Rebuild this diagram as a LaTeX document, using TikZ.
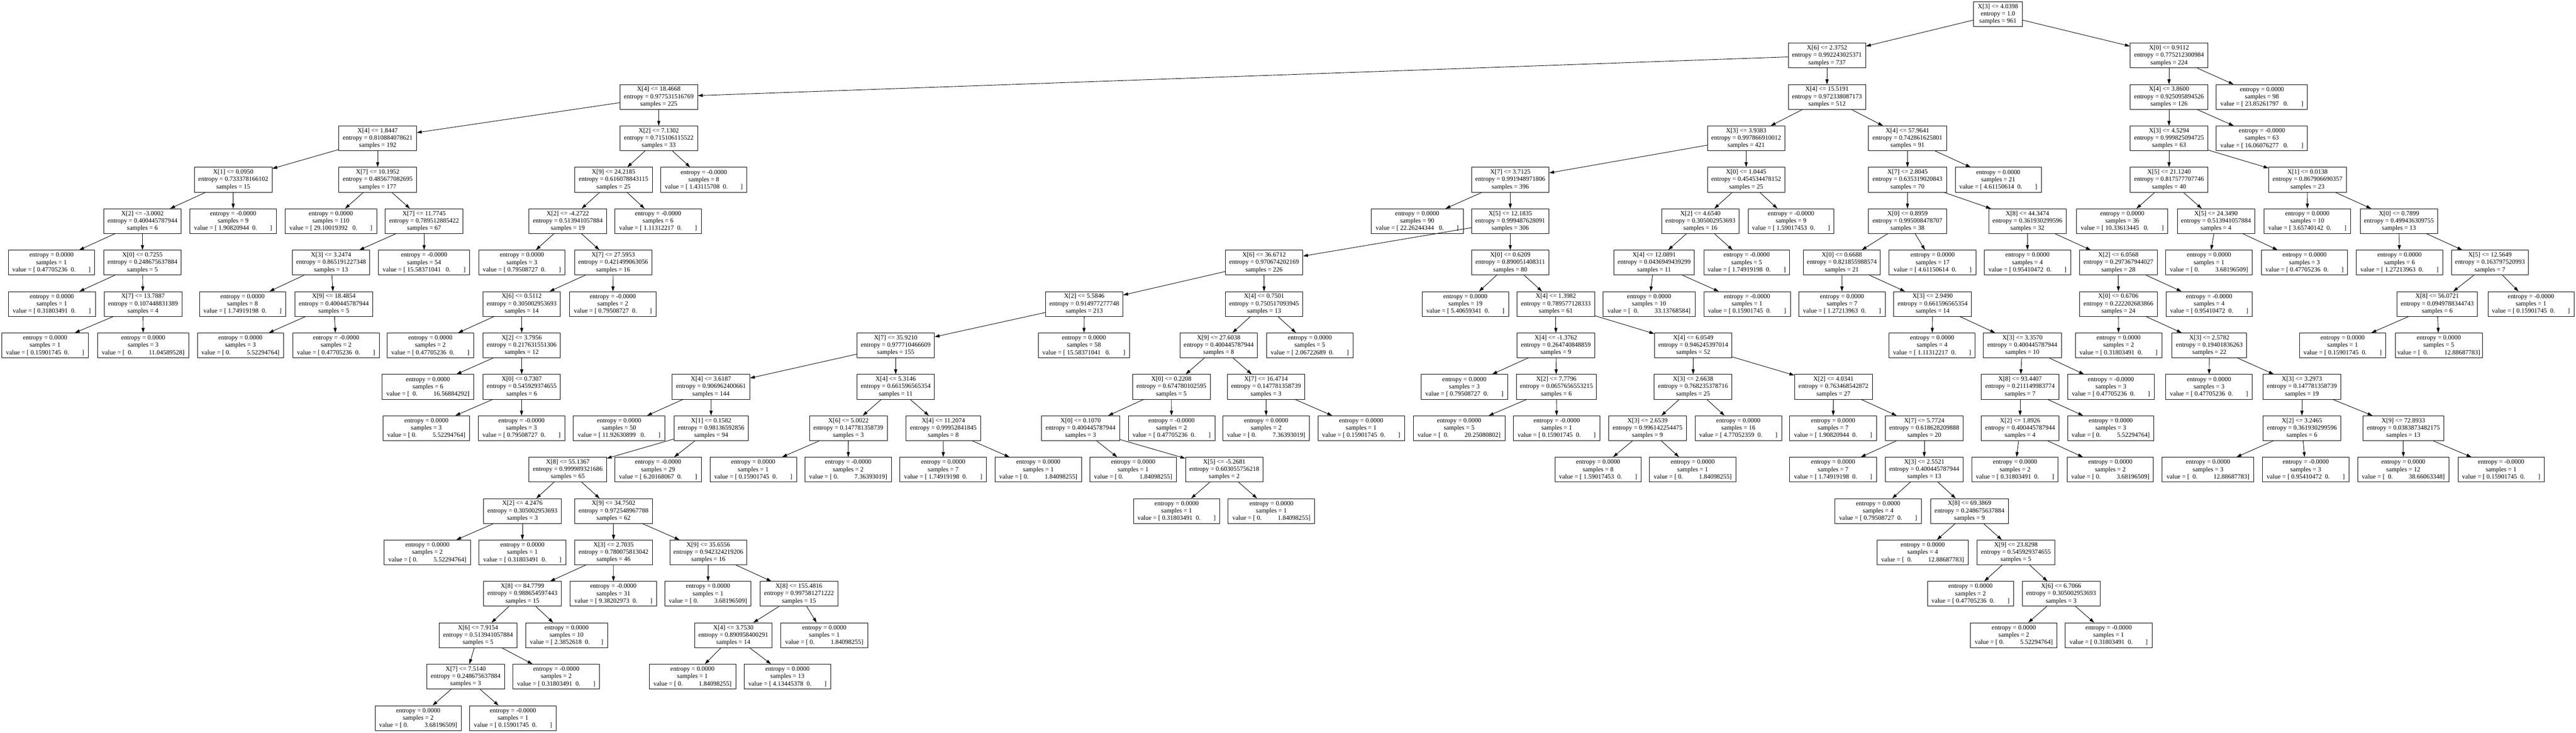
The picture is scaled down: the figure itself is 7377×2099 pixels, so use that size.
\documentclass[tikz,border=0pt]{standalone}
\usepackage{fontspec}
\setmainfont{Liberation Serif}
\usetikzlibrary{arrows.meta}
\newcommand\SP[1]{\hspace*{#1\fontdimen2\font}}
\newcommand\VA[1]{value = [\SP{1}#1\SP{2}0.\SP{8}]}
\newcommand\VAA[1]{value = [\SP{1}#1\SP{3}0.\SP{8}]}
\newcommand\VB[1]{value = [\SP{1}0.\SP{10}#1]}
\newcommand\VBB[1]{value = [\SP{2}0.\SP{10}#1]}
\newcommand\VC[1]{value = [\SP{1}#1\SP{2}0.\SP{7}]}
\newcommand\SN[8]{\node[nb,minimum width={#3-#2}] (N#1) at ({(#2+#3)/2},{40.5+118.6*#4}) {X[#5] <= #6\\entropy = #7\\samples = #8};}
\newcommand\LF[7]{\node[nb,minimum width={#3-#2}] (N#1) at ({(#2+#3)/2},{40.5+118.6*#4}) {entropy = #5\\samples = #6\\#7};}
\newcommand\E[3]{\draw[eg] (N#1) -- (N#2); \draw[eg] (N#1) -- (N#3);}
\begin{document}
\begin{tikzpicture}[x=1pt,y=-1pt,
  nb/.style={draw,rectangle,line width=1.3pt,inner sep=0pt,minimum height=71pt,align=center,font=\fontsize{18.4}{21}\selectfont},
  eg/.style={line width=1.3pt,-{Triangle[length=14pt,width=9pt]}}]
\fill[white] (0,0) rectangle (7377,2099);
\useasboundingbox (0,0) rectangle (7377,2099);
% level 0
\SN{root}{5652}{5791}{0}{3}{4.0398}{1.0}{961}
% level 1
\SN{a}{5121}{5343}{1}{6}{2.3752}{0.992243025371}{737}
\SN{b}{6100}{6323}{1}{0}{0.9112}{0.775212300984}{224}
% level 2
\SN{c}{1775}{1998}{2}{4}{18.4668}{0.977531516769}{225}
\SN{d}{5121}{5343}{2}{4}{15.5191}{0.972338087173}{512}
\SN{e}{6100}{6323}{2}{4}{3.8600}{0.925095894526}{126}
\LF{f}{6347}{6608}{2}{0.0000}{98}{\VAA{23.85261797}}
% level 3
\SN{g}{970}{1193}{3}{4}{1.8447}{0.810884078621}{192}
\SN{h}{1775}{1998}{3}{2}{7.1302}{0.715106115522}{33}
\SN{i}{4890}{5111}{3}{3}{3.9383}{0.997866910012}{421}
\SN{j}{5351}{5574}{3}{4}{57.9641}{0.742861625801}{91}
\SN{k}{6100}{6323}{3}{3}{4.5294}{0.999825094725}{63}
\LF{l}{6347}{6608}{3}{-0.0000}{63}{\VAA{16.06076277}}
% level 4
\SN{m}{557}{779}{4}{1}{0.0950}{0.733378166102}{15}
\SN{n}{970}{1193}{4}{7}{10.1952}{0.485677082695}{177}
\SN{o}{1646}{1868}{4}{9}{24.2185}{0.616078843115}{25}
\LF{p}{1892}{2139}{4}{-0.0000}{8}{\VA{1.43115708}}
\SN{q}{4214}{4436}{4}{7}{3.7125}{0.991948971806}{396}
\SN{r}{4890}{5111}{4}{0}{1.0445}{0.454534478152}{25}
\SN{s}{5351}{5574}{4}{7}{2.8045}{0.635319020843}{70}
\LF{t}{5599}{5846}{4}{0.0000}{21}{\VA{4.61150614}}
\SN{u}{6100}{6323}{4}{5}{21.1240}{0.817577707746}{40}
\SN{v}{6497}{6719}{4}{1}{0.0138}{0.867906690357}{23}
% level 5
\SN{w}{297}{519}{5}{2}{-3.0002}{0.400445787944}{6}
\LF{x}{544}{791}{5}{-0.0000}{9}{\VA{1.90820944}}
\LF{y}{816}{1079}{5}{0.0000}{110}{\VAA{29.10019392}}
\SN{z}{1103}{1326}{5}{7}{11.7745}{0.789512885422}{67}
\SN{aa}{1515}{1737}{5}{2}{-4.2722}{0.513941057884}{19}
\LF{ab}{1761}{2008}{5}{-0.0000}{6}{\VA{1.11312217}}
\LF{ac}{3927}{4190}{5}{0.0000}{90}{\VAA{22.26244344}}
\SN{ad}{4214}{4436}{5}{5}{12.1835}{0.999487628091}{306}
\SN{ae}{4759}{4980}{5}{2}{4.6540}{0.305002953693}{16}
\LF{af}{5006}{5252}{5}{-0.0000}{9}{\VA{1.59017453}}
\SN{ag}{5351}{5574}{5}{0}{0.8959}{0.995008478707}{38}
\SN{ah}{5695}{5917}{5}{8}{44.3474}{0.361930299596}{32}
\LF{ai}{5947}{6208}{5}{0.0000}{36}{\VAA{10.33613445}}
\SN{aj}{6235}{6457}{5}{5}{24.3490}{0.513941057884}{4}
\LF{ak}{6484}{6731}{5}{0.0000}{10}{\VA{3.65740142}}
\SN{al}{6759}{6981}{5}{0}{0.7899}{0.499436309755}{13}
% level 6
\LF{am}{24}{271}{6}{0.0000}{1}{\VA{0.47705236}}
\SN{an}{297}{519}{6}{0}{0.7255}{0.248675637884}{5}
\SN{ao}{837}{1059}{6}{3}{3.2474}{0.865191227348}{13}
\LF{ap}{1084}{1345}{6}{-0.0000}{54}{\VAA{15.58371041}}
\LF{aq}{1371}{1618}{6}{0.0000}{3}{\VA{0.79508727}}
\SN{ar}{1645}{1867}{6}{7}{27.5953}{0.421499063056}{16}
\SN{as}{3509}{3731}{6}{6}{36.6712}{0.970674202169}{226}
\SN{at}{4214}{4436}{6}{0}{0.6209}{0.890051408311}{80}
\SN{au}{4622}{4852}{6}{4}{12.0891}{0.0436949439299}{11}
\LF{av}{4879}{5125}{6}{-0.0000}{5}{\VA{1.74919198}}
\SN{aw}{5164}{5385}{6}{0}{0.6688}{0.821855988574}{21}
\LF{ax}{5410}{5659}{6}{0.0000}{17}{\VA{4.61150614}}
\LF{ay}{5682}{5930}{6}{0.0000}{4}{\VA{0.95410472}}
\SN{az}{5955}{6178}{6}{2}{6.0568}{0.297367944027}{28}
\LF{ba}{6202}{6450}{6}{0.0000}{1}{\VB{3.68196509}}
\LF{bb}{6476}{6723}{6}{0.0000}{3}{\VA{0.47705236}}
\LF{bc}{6748}{6995}{6}{0.0000}{6}{\VA{1.27213963}}
\SN{bd}{7020}{7241}{6}{5}{12.5649}{0.163797520993}{7}
% level 7
\LF{be}{24}{273}{7}{0.0000}{1}{\VA{0.31803491}}
\SN{bf}{298}{521}{7}{7}{13.7887}{0.107448831389}{4}
\LF{bg}{571}{818}{7}{0.0000}{8}{\VA{1.74919198}}
\SN{bh}{845}{1067}{7}{9}{18.4854}{0.400445787944}{5}
\SN{bi}{1383}{1605}{7}{6}{0.5112}{0.305002953693}{14}
\LF{bj}{1631}{1879}{7}{-0.0000}{2}{\VA{0.79508727}}
\SN{bk}{2994}{3216}{7}{2}{5.5846}{0.914977277748}{213}
\SN{bl}{3509}{3731}{7}{4}{0.7501}{0.750517093945}{13}
\LF{bm}{4073}{4320}{7}{0.0000}{19}{\VA{5.40659341}}
\SN{bn}{4344}{4567}{7}{4}{1.3982}{0.789577128333}{61}
\LF{bo}{4591}{4854}{7}{0.0000}{10}{\VBB{33.13768584}}
\LF{bp}{4879}{5127}{7}{-0.0000}{1}{\VA{0.15901745}}
\LF{bq}{5151}{5399}{7}{0.0000}{7}{\VA{1.27213963}}
\SN{br}{5423}{5646}{7}{3}{2.9490}{0.661596565354}{14}
\SN{bs}{5955}{6178}{7}{0}{0.6706}{0.222202683866}{24}
\LF{bt}{6203}{6450}{7}{-0.0000}{4}{\VA{0.95410472}}
\SN{bu}{6864}{7095}{7}{8}{56.0721}{0.0949788344743}{6}
\LF{bv}{7125}{7371}{7}{-0.0000}{1}{\VA{0.15901745}}
% level 8
\LF{bw}{5}{253}{8}{0.0000}{1}{\VA{0.15901745}}
\LF{bx}{279}{541}{8}{0.0000}{3}{\VBB{11.04589528}}
\LF{by}{565}{812}{8}{0.0000}{3}{\VB{5.52294764}}
\LF{bz}{839}{1086}{8}{-0.0000}{2}{\VA{0.47705236}}
\LF{ca}{1109}{1356}{8}{0.0000}{2}{\VA{0.47705236}}
\SN{cb}{1383}{1605}{8}{2}{3.7956}{0.217631551306}{12}
\SN{cc}{2454}{2676}{8}{7}{35.9210}{0.977710466609}{155}
\LF{cd}{2973}{3235}{8}{0.0000}{58}{\VAA{15.58371041}}
\SN{ce}{3379}{3601}{8}{9}{27.6038}{0.400445787944}{8}
\LF{cf}{3627}{3875}{8}{0.0000}{5}{\VA{2.06722689}}
\SN{cg}{4344}{4567}{8}{4}{-1.3762}{0.264740848859}{9}
\SN{ch}{4738}{4960}{8}{4}{6.0549}{0.946245397014}{52}
\LF{ci}{5410}{5656}{8}{0.0000}{4}{\VA{1.11312217}}
\SN{cj}{5680}{5903}{8}{3}{3.3570}{0.400445787944}{10}
\LF{ck}{5943}{6191}{8}{0.0000}{2}{\VA{0.31803491}}
\SN{cl}{6220}{6434}{8}{3}{2.5782}{0.19401836263}{22}
\LF{cm}{6585}{6832}{8}{0.0000}{1}{\VA{0.15901745}}
\LF{cn}{6859}{7109}{8}{0.0000}{5}{\VBB{12.88687783}}
% level 9
\LF{co}{1094}{1357}{9}{0.0000}{6}{\VBB{16.56884292}}
\SN{cp}{1383}{1605}{9}{0}{0.7307}{0.545929374655}{6}
\SN{cq}{1925}{2147}{9}{4}{3.6187}{0.906962400661}{144}
\SN{cr}{2454}{2676}{9}{4}{5.3146}{0.661596565354}{11}
\SN{cs}{3243}{3466}{9}{0}{0.2208}{0.674780102595}{5}
\SN{ct}{3515}{3736}{9}{7}{16.4714}{0.147781358739}{3}
\LF{cu}{4070}{4317}{9}{0.0000}{3}{\VA{0.79508727}}
\SN{cv}{4342}{4572}{9}{2}{7.7796}{0.0657656553215}{6}
\SN{cw}{4737}{4960}{9}{3}{2.6638}{0.768235378716}{25}
\SN{cx}{5139}{5362}{9}{2}{4.0341}{0.763468542872}{27}
\SN{cy}{5674}{5896}{9}{8}{93.4407}{0.211149983774}{7}
\LF{cz}{5921}{6169}{9}{-0.0000}{3}{\VA{0.47705236}}
\LF{da}{6202}{6450}{9}{0.0000}{3}{\VA{0.47705236}}
\SN{db}{6481}{6703}{9}{3}{3.2973}{0.147781358739}{19}
% level 10
\LF{dc}{1097}{1345}{10}{0.0000}{3}{\VB{5.52294764}}
\LF{dd}{1370}{1617}{10}{-0.0000}{3}{\VA{0.79508727}}
\LF{de}{1642}{1904}{10}{0.0000}{50}{\VAA{11.92630899}}
\SN{df}{1930}{2143}{10}{1}{0.1582}{0.98136592856}{94}
\SN{dg}{2318}{2541}{10}{6}{5.0022}{0.147781358739}{3}
\SN{dh}{2595}{2808}{10}{4}{11.2074}{0.99952841845}{8}
\SN{di}{2983}{3206}{10}{0}{0.1070}{0.400445787944}{3}
\LF{dj}{3231}{3479}{10}{-0.0000}{2}{\VA{0.47705236}}
\LF{dk}{3502}{3750}{10}{0.0000}{2}{\VB{7.36393019}}
\LF{dl}{3774}{4022}{10}{0.0000}{1}{\VA{0.15901745}}
\LF{dm}{4047}{4310}{10}{0.0000}{5}{\VBB{20.25080802}}
\LF{dn}{4334}{4582}{10}{-0.0000}{1}{\VA{0.15901745}}
\SN{do}{4607}{4829}{10}{3}{2.6539}{0.996142254475}{9}
\LF{dp}{4854}{5102}{10}{0.0000}{16}{\VA{4.77052359}}
\LF{dq}{5125}{5374}{10}{0.0000}{7}{\VA{1.90820944}}
\SN{dr}{5399}{5622}{10}{7}{5.7724}{0.618628209888}{20}
\SN{ds}{5674}{5896}{10}{2}{1.8926}{0.400445787944}{4}
\LF{dt}{5921}{6168}{10}{0.0000}{3}{\VB{5.52294764}}
\SN{du}{6481}{6703}{10}{2}{3.2465}{0.361930299596}{6}
\SN{dv}{6767}{6998}{10}{9}{72.8933}{0.0383873482175}{13}
% level 11
\SN{dw}{1515}{1737}{11}{8}{55.1367}{0.999989321686}{65}
\LF{dx}{1761}{2008}{11}{-0.0000}{29}{\VA{6.20168067}}
\LF{dy}{2033}{2281}{11}{0.0000}{1}{\VA{0.15901745}}
\LF{dz}{2305}{2553}{11}{-0.0000}{2}{\VB{7.36393019}}
\LF{ea}{2577}{2825}{11}{0.0000}{7}{\VA{1.74919198}}
\LF{eb}{2850}{3097}{11}{0.0000}{1}{\VB{1.84098255}}
\LF{ec}{3121}{3369}{11}{0.0000}{1}{\VB{1.84098255}}
\SN{ed}{3395}{3617}{11}{5}{-5.2681}{0.603055756218}{2}
\LF{ee}{4453}{4700}{11}{0.0000}{8}{\VA{1.59017453}}
\LF{ef}{4724}{4971}{11}{0.0000}{1}{\VB{1.84098255}}
\LF{eg}{5125}{5374}{11}{0.0000}{7}{\VA{1.74919198}}
\SN{eh}{5399}{5622}{11}{3}{2.5521}{0.400445787944}{13}
\LF{ei}{5647}{5894}{11}{0.0000}{2}{\VA{0.31803491}}
\LF{ej}{5920}{6167}{11}{0.0000}{2}{\VB{3.68196509}}
\LF{ek}{6192}{6454}{11}{0.0000}{3}{\VBB{12.88687783}}
\LF{el}{6479}{6727}{11}{-0.0000}{3}{\VA{0.95410472}}
\LF{em}{6752}{7013}{11}{0.0000}{12}{\VBB{38.66063348}}
\LF{en}{7039}{7286}{11}{-0.0000}{1}{\VA{0.15901745}}
% level 12
\SN{eo}{1385}{1607}{12}{2}{4.2476}{0.305002953693}{3}
\SN{ep}{1646}{1868}{12}{9}{34.7502}{0.972548967788}{62}
\LF{eq}{3246}{3493}{12}{0.0000}{1}{\VA{0.31803491}}
\LF{er}{3517}{3765}{12}{0.0000}{1}{\VB{1.84098255}}
\LF{es}{5255}{5502}{12}{0.0000}{4}{\VA{0.79508727}}
\SN{et}{5529}{5751}{12}{8}{69.3869}{0.248675637884}{9}
% level 13
\LF{eu}{1100}{1348}{13}{0.0000}{2}{\VB{5.52294764}}
\LF{ev}{1372}{1620}{13}{0.0000}{1}{\VA{0.31803491}}
\SN{ew}{1646}{1868}{13}{3}{2.7035}{0.780075813042}{46}
\SN{ex}{1918}{2139}{13}{9}{35.6556}{0.942324219206}{16}
\LF{ey}{5375}{5637}{13}{0.0000}{4}{\VBB{12.88687783}}
\SN{ez}{5662}{5884}{13}{9}{23.8298}{0.545929374655}{5}
% level 14
\SN{fa}{1385}{1607}{14}{8}{84.7799}{0.988654597443}{15}
\LF{fb}{1633}{1880}{14}{-0.0000}{31}{\VA{9.38202973}}
\LF{fc}{1904}{2151}{14}{0.0000}{1}{\VB{3.68196509}}
\SN{fd}{2177}{2399}{14}{8}{155.4816}{0.997581271222}{15}
\LF{fe}{5520}{5766}{14}{0.0000}{2}{\VA{0.47705236}}
\SN{ff}{5791}{6014}{14}{6}{6.7066}{0.305002953693}{3}
% level 15
\SN{fg}{1258}{1480}{15}{6}{7.9154}{0.513941057884}{5}
\LF{fh}{1505}{1740}{15}{0.0000}{10}{\VC{2.3852618}}
\SN{fi}{1989}{2211}{15}{4}{3.7530}{0.890958400291}{14}
\LF{fj}{2236}{2485}{15}{0.0000}{1}{\VB{1.84098255}}
\LF{fk}{5643}{5891}{15}{0.0000}{2}{\VB{5.52294764}}
\LF{fl}{5914}{6163}{15}{-0.0000}{1}{\VA{0.31803491}}
% level 16
\SN{fm}{1222}{1445}{16}{7}{7.5140}{0.248675637884}{3}
\LF{fn}{1469}{1717}{16}{-0.0000}{2}{\VA{0.31803491}}
\LF{fo}{1859}{2107}{16}{0.0000}{1}{\VB{1.84098255}}
\LF{fp}{2131}{2379}{16}{0.0000}{13}{\VA{4.13445378}}
% level 17
\LF{fq}{1074}{1321}{17}{0.0000}{2}{\VB{3.68196509}}
\LF{fr}{1345}{1593}{17}{-0.0000}{1}{\VA{0.15901745}}
% edges
\E{root}{a}{b}
\E{a}{c}{d}
\E{b}{e}{f}
\E{c}{g}{h}
\E{d}{i}{j}
\E{e}{k}{l}
\E{g}{m}{n}
\E{h}{o}{p}
\E{i}{q}{r}
\E{j}{s}{t}
\E{k}{u}{v}
\E{m}{w}{x}
\E{n}{y}{z}
\E{o}{aa}{ab}
\E{q}{ac}{ad}
\E{r}{ae}{af}
\E{s}{ag}{ah}
\E{u}{ai}{aj}
\E{v}{ak}{al}
\E{w}{am}{an}
\E{z}{ao}{ap}
\E{aa}{aq}{ar}
\E{ad}{as}{at}
\E{ae}{au}{av}
\E{ag}{aw}{ax}
\E{ah}{ay}{az}
\E{aj}{ba}{bb}
\E{al}{bc}{bd}
\E{an}{be}{bf}
\E{ao}{bg}{bh}
\E{ar}{bi}{bj}
\E{as}{bk}{bl}
\E{at}{bm}{bn}
\E{au}{bo}{bp}
\E{aw}{bq}{br}
\E{az}{bs}{bt}
\E{bd}{bu}{bv}
\E{bf}{bw}{bx}
\E{bh}{by}{bz}
\E{bi}{ca}{cb}
\E{bk}{cc}{cd}
\E{bl}{ce}{cf}
\E{bn}{cg}{ch}
\E{br}{ci}{cj}
\E{bs}{ck}{cl}
\E{bu}{cm}{cn}
\E{cb}{co}{cp}
\E{cc}{cq}{cr}
\E{ce}{cs}{ct}
\E{cg}{cu}{cv}
\E{ch}{cw}{cx}
\E{cj}{cy}{cz}
\E{cl}{da}{db}
\E{cp}{dc}{dd}
\E{cq}{de}{df}
\E{cr}{dg}{dh}
\E{cs}{di}{dj}
\E{ct}{dk}{dl}
\E{cv}{dm}{dn}
\E{cw}{do}{dp}
\E{cx}{dq}{dr}
\E{cy}{ds}{dt}
\E{db}{du}{dv}
\E{df}{dw}{dx}
\E{dg}{dy}{dz}
\E{dh}{ea}{eb}
\E{di}{ec}{ed}
\E{do}{ee}{ef}
\E{dr}{eg}{eh}
\E{ds}{ei}{ej}
\E{du}{ek}{el}
\E{dv}{em}{en}
\E{dw}{eo}{ep}
\E{ed}{eq}{er}
\E{eh}{es}{et}
\E{eo}{eu}{ev}
\E{ep}{ew}{ex}
\E{et}{ey}{ez}
\E{ew}{fa}{fb}
\E{ex}{fc}{fd}
\E{ez}{fe}{ff}
\E{fa}{fg}{fh}
\E{fd}{fi}{fj}
\E{ff}{fk}{fl}
\E{fg}{fm}{fn}
\E{fi}{fo}{fp}
\E{fm}{fq}{fr}
\end{tikzpicture}
\end{document}
